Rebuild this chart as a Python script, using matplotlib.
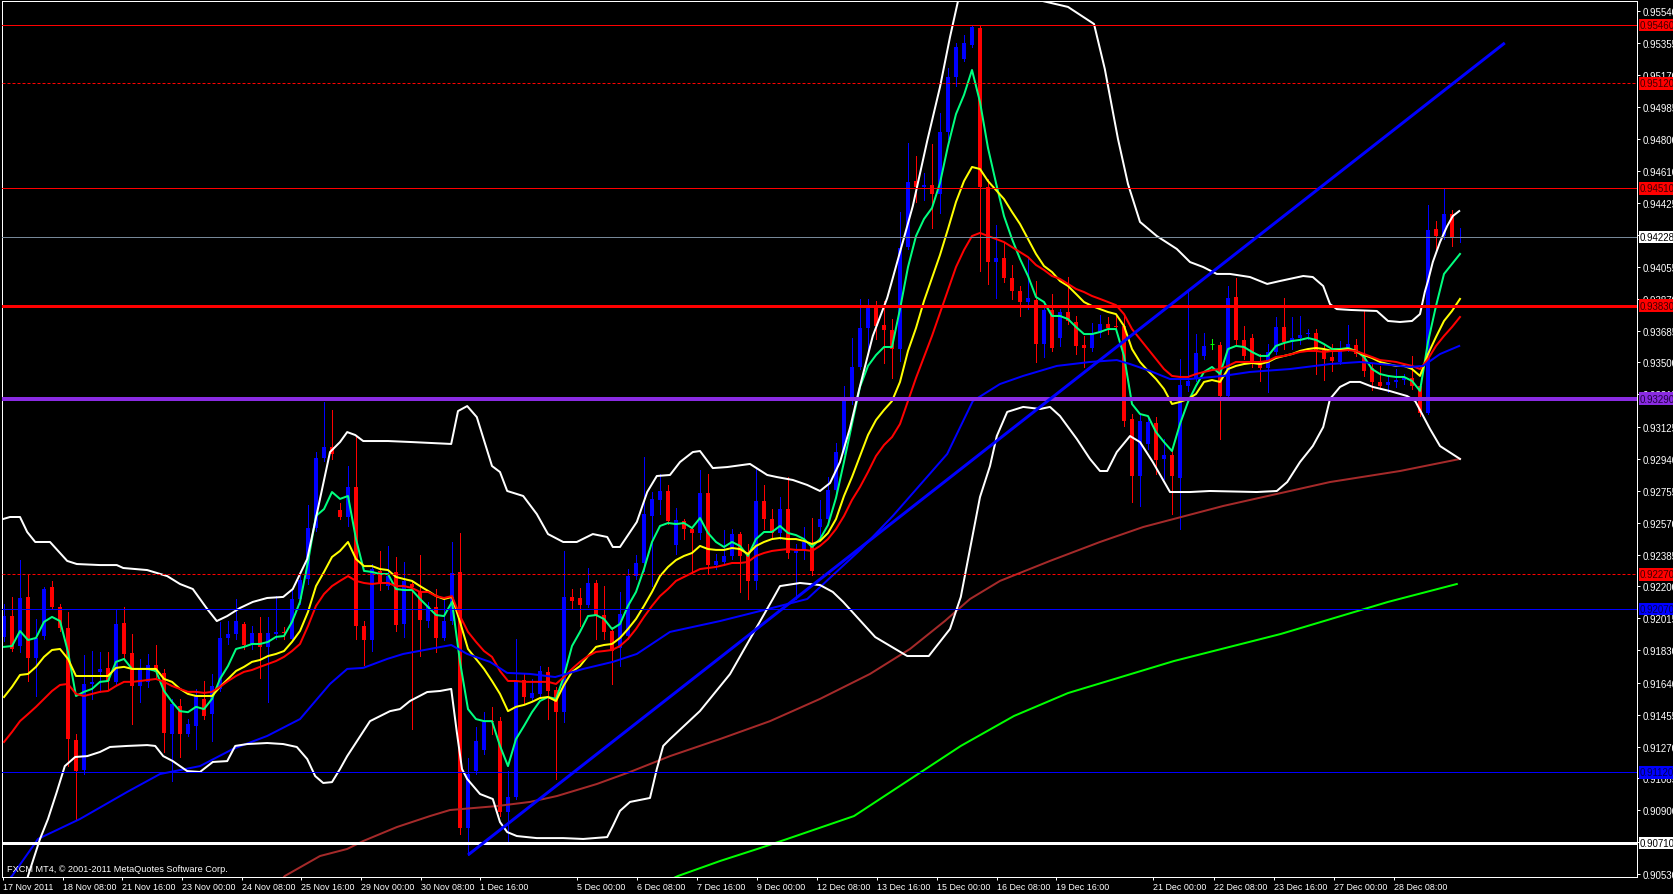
import matplotlib
matplotlib.use("Agg")
import matplotlib.pyplot as plt
import numpy as np
from matplotlib.transforms import blended_transform_factory

plt.rcParams['font.family'] = ['Liberation Sans', 'DejaVu Sans']

# ---- H4 candles, 17 Nov - 28 Dec 2011 ----
opens = [0.91907, 0.92028, 0.91854, 0.92139, 0.91785, 0.91912, 0.92197, 0.92081, 0.91959, 0.91308,
         0.91134, 0.91634, 0.91704, 0.91727, 0.91646, 0.91988, 0.91814, 0.91622, 0.91646, 0.91744,
         0.91698, 0.91343, 0.91506, 0.91343, 0.91390, 0.91547, 0.91459, 0.91605, 0.91901, 0.91924,
         0.91982, 0.91866, 0.91930, 0.91849, 0.91924, 0.91936, 0.91895, 0.92127, 0.92243, 0.92539,
         0.92946, 0.93009, 0.92644, 0.92603, 0.92777, 0.91970, 0.91889, 0.92290, 0.92203, 0.92284,
         0.91982, 0.92214, 0.92174, 0.92000, 0.92081, 0.91901, 0.92000, 0.92284, 0.90798, 0.91128,
         0.91250, 0.91419, 0.91419, 0.90890, 0.90978, 0.91657, 0.91552, 0.91576, 0.91704, 0.91599,
         0.91471, 0.92139, 0.92133, 0.92092, 0.92220, 0.92034, 0.91941, 0.91843, 0.91912, 0.92260,
         0.92336, 0.92609, 0.92702, 0.92754, 0.92440, 0.92580, 0.92533, 0.92510, 0.92742, 0.92324,
         0.92342, 0.92377, 0.92504, 0.92400, 0.92232, 0.92696, 0.92591, 0.92510, 0.92649, 0.92394,
         0.92412, 0.92435, 0.92545, 0.92591, 0.92760, 0.92980, 0.93276, 0.93474, 0.93700, 0.93816,
         0.93717, 0.93688, 0.93578, 0.94171, 0.94553, 0.94519, 0.94530, 0.94478, 0.94838, 0.95157,
         0.95262, 0.95343, 0.95442, 0.94519, 0.94083, 0.94106, 0.93990, 0.93915, 0.93851, 0.93863,
         0.93607, 0.93805, 0.93642, 0.93793, 0.93735, 0.93601, 0.93584, 0.93671, 0.93723, 0.93712,
         0.93712, 0.93172, 0.92841, 0.93027, 0.93149, 0.92940, 0.92963, 0.92829, 0.93363, 0.93410,
         0.93538, 0.93607, 0.93601, 0.93305, 0.93880, 0.93630, 0.93642, 0.93503, 0.93468, 0.93561,
         0.93706, 0.93619, 0.93642, 0.93665, 0.93671, 0.93572, 0.93532, 0.93503, 0.93578, 0.93601,
         0.93549, 0.93468, 0.93387, 0.93369, 0.93387, 0.93398, 0.93410, 0.93364, 0.93207, 0.94275,
         0.94234, 0.94362, 0.94223]
highs = [0.92098, 0.92139, 0.92353, 0.92266, 0.92011, 0.92197, 0.92232, 0.92098, 0.92052, 0.91343,
         0.91802, 0.91825, 0.91820, 0.91820, 0.92063, 0.92081, 0.91924, 0.91779, 0.91808, 0.91860,
         0.91721, 0.91547, 0.91547, 0.91430, 0.91605, 0.91651, 0.91692, 0.91994, 0.92000, 0.92127,
         0.91994, 0.91970, 0.92023, 0.92023, 0.92144, 0.91965, 0.92185, 0.92260, 0.92673, 0.92980,
         0.93271, 0.93224, 0.92684, 0.92899, 0.93068, 0.92000, 0.92330, 0.92406, 0.92435, 0.92371,
         0.92342, 0.92232, 0.92383, 0.92110, 0.92185, 0.92127, 0.92458, 0.92510, 0.91204, 0.91384,
         0.91471, 0.91500, 0.91442, 0.91128, 0.91895, 0.91692, 0.91663, 0.91738, 0.91733, 0.91617,
         0.92406, 0.92185, 0.92191, 0.92307, 0.92237, 0.92203, 0.91965, 0.92168, 0.92301, 0.92383,
         0.92951, 0.92748, 0.92853, 0.92789, 0.92655, 0.92591, 0.92545, 0.92876, 0.92853, 0.92388,
         0.92528, 0.92533, 0.92516, 0.92446, 0.92893, 0.92789, 0.92649, 0.92719, 0.92835, 0.92446,
         0.92545, 0.92597, 0.92702, 0.92835, 0.93033, 0.93363, 0.93642, 0.93869, 0.93869, 0.93857,
         0.93857, 0.93752, 0.94374, 0.94774, 0.94699, 0.94600, 0.94768, 0.94948, 0.95209, 0.95355,
         0.95401, 0.95459, 0.95453, 0.94565, 0.94298, 0.94199, 0.94066, 0.93944, 0.94112, 0.93973,
         0.93840, 0.93898, 0.93810, 0.93996, 0.93770, 0.93654, 0.93729, 0.93775, 0.93764, 0.93770,
         0.93770, 0.93201, 0.93201, 0.93184, 0.93184, 0.93056, 0.92986, 0.93520, 0.93909, 0.93665,
         0.93671, 0.93636, 0.93619, 0.93944, 0.93990, 0.93712, 0.93665, 0.93549, 0.93607, 0.93764,
         0.93874, 0.93764, 0.93770, 0.93694, 0.93694, 0.93607, 0.93607, 0.93625, 0.93717, 0.93636,
         0.93799, 0.93491, 0.93480, 0.93422, 0.93462, 0.93433, 0.93538, 0.93375, 0.94414, 0.94321,
         0.94513, 0.94385, 0.94281]
lows = [0.91883, 0.91825, 0.91820, 0.91651, 0.91564, 0.91895, 0.92069, 0.91941, 0.91157, 0.90850,
        0.91111, 0.91547, 0.91588, 0.91605, 0.91628, 0.91779, 0.91401, 0.91529, 0.91617, 0.91663,
        0.91239, 0.91070, 0.91210, 0.91332, 0.91256, 0.91430, 0.91303, 0.91593, 0.91866, 0.91895,
        0.91837, 0.91837, 0.91669, 0.91529, 0.91895, 0.91895, 0.91883, 0.92098, 0.92214, 0.92522,
        0.92929, 0.92940, 0.92591, 0.92551, 0.91895, 0.91744, 0.91825, 0.92179, 0.92185, 0.91941,
        0.91907, 0.91372, 0.91796, 0.91965, 0.91820, 0.91889, 0.91982, 0.90763, 0.90641, 0.91111,
        0.91227, 0.91343, 0.90867, 0.90716, 0.90966, 0.91517, 0.91535, 0.91564, 0.91430, 0.91082,
        0.91413, 0.92069, 0.91970, 0.92081, 0.91895, 0.91895, 0.91634, 0.91738, 0.91895, 0.92243,
        0.92290, 0.92202, 0.92620, 0.92562, 0.92388, 0.92475, 0.92278, 0.92475, 0.92272, 0.92301,
        0.92324, 0.92359, 0.92168, 0.92127, 0.92185, 0.92533, 0.92475, 0.92475, 0.92365, 0.92127,
        0.92359, 0.92266, 0.92475, 0.92562, 0.92748, 0.92969, 0.93259, 0.93462, 0.93567, 0.93636,
        0.93497, 0.93410, 0.93509, 0.94159, 0.94432, 0.94443, 0.94281, 0.94368, 0.94797, 0.95105,
        0.95250, 0.95331, 0.94031, 0.93956, 0.93874, 0.93967, 0.93869, 0.93770, 0.93810, 0.93503,
        0.93532, 0.93567, 0.93596, 0.93723, 0.93549, 0.93474, 0.93567, 0.93648, 0.93665, 0.93677,
        0.93131, 0.92690, 0.92667, 0.92998, 0.92853, 0.92824, 0.92620, 0.92533, 0.93334, 0.93392,
        0.93520, 0.93578, 0.93056, 0.93288, 0.93607, 0.93520, 0.93474, 0.93392, 0.93329, 0.93549,
        0.93578, 0.93578, 0.93607, 0.93636, 0.93433, 0.93398, 0.93451, 0.93491, 0.93567, 0.93538,
        0.93422, 0.93340, 0.93346, 0.93329, 0.93358, 0.93375, 0.93346, 0.93189, 0.93201, 0.94147,
        0.94217, 0.94176, 0.94199]
closes = [0.92028, 0.91837, 0.92133, 0.91785, 0.91901, 0.92185, 0.92081, 0.91959, 0.91314, 0.91128,
          0.91634, 0.91646, 0.91721, 0.91651, 0.91982, 0.91808, 0.91622, 0.91721, 0.91744, 0.91704,
          0.91349, 0.91517, 0.91343, 0.91401, 0.91564, 0.91448, 0.91622, 0.91901, 0.91924, 0.92000,
          0.91860, 0.91930, 0.91849, 0.91930, 0.91936, 0.91930, 0.92127, 0.92237, 0.92539, 0.92946,
          0.93009, 0.92969, 0.92603, 0.92777, 0.91970, 0.91889, 0.92301, 0.92220, 0.92260, 0.91976,
          0.92232, 0.92197, 0.92006, 0.92087, 0.91901, 0.92000, 0.92278, 0.90798, 0.91111, 0.91303,
          0.91413, 0.91413, 0.90890, 0.90978, 0.91646, 0.91558, 0.91581, 0.91709, 0.91593, 0.91471,
          0.92139, 0.92116, 0.92092, 0.92220, 0.92028, 0.91936, 0.91825, 0.92040, 0.92260, 0.92336,
          0.92620, 0.92708, 0.92754, 0.92580, 0.92586, 0.92533, 0.92510, 0.92742, 0.92324, 0.92348,
          0.92377, 0.92504, 0.92377, 0.92232, 0.92696, 0.92591, 0.92510, 0.92649, 0.92394, 0.92406,
          0.92458, 0.92290, 0.92591, 0.92760, 0.92980, 0.93276, 0.93474, 0.93700, 0.93816, 0.93712,
          0.93688, 0.93578, 0.94165, 0.94548, 0.94519, 0.94530, 0.94478, 0.94838, 0.95157, 0.95331,
          0.95355, 0.95447, 0.94519, 0.94083, 0.94106, 0.93990, 0.93915, 0.93851, 0.93874, 0.93607,
          0.93805, 0.93584, 0.93793, 0.93741, 0.93596, 0.93584, 0.93671, 0.93723, 0.93700, 0.93706,
          0.93160, 0.92841, 0.93160, 0.93154, 0.92934, 0.92963, 0.92841, 0.93369, 0.93392, 0.93555,
          0.93596, 0.93607, 0.93305, 0.93874, 0.93630, 0.93538, 0.93503, 0.93468, 0.93561, 0.93706,
          0.93619, 0.93642, 0.93660, 0.93671, 0.93572, 0.93520, 0.93509, 0.93578, 0.93607, 0.93549,
          0.93451, 0.93387, 0.93364, 0.93387, 0.93398, 0.93410, 0.93364, 0.93207, 0.94269, 0.94234,
          0.94362, 0.94223, 0.94228]

# ---- moving averages, one value per bar ----
ma_green = [0.91849, 0.91854, 0.91941, 0.91889, 0.91901, 0.91994, 0.92023, 0.91999, 0.91820, 0.91564,
            0.91588, 0.91605, 0.91646, 0.91651, 0.91762, 0.91779, 0.91721, 0.91721, 0.91721, 0.91709,
            0.91593, 0.91530, 0.91476, 0.91470, 0.91501, 0.91488, 0.91547, 0.91663, 0.91738, 0.91837,
            0.91849, 0.91866, 0.91866, 0.91878, 0.91907, 0.91912, 0.91994, 0.92110, 0.92342, 0.92609,
            0.92649, 0.92748, 0.92708,
            0.92725, 0.92475, 0.92290, 0.92284, 0.92272, 0.92272, 0.92185, 0.92179, 0.92179, 0.92127,
            0.92081, 0.92034, 0.92028, 0.92110, 0.91762, 0.91488, 0.91430, 0.91418, 0.91418, 0.91274,
            0.91157, 0.91314, 0.91390, 0.91470, 0.91535, 0.91558, 0.91547, 0.91680, 0.91854, 0.91936,
            0.92028, 0.92034, 0.92011, 0.91953, 0.91982, 0.92087, 0.92168, 0.92301, 0.92458, 0.92551,
            0.92568,
            0.92562, 0.92568, 0.92539, 0.92597, 0.92510, 0.92458, 0.92429, 0.92458, 0.92435, 0.92377,
            0.92475, 0.92516, 0.92516, 0.92551, 0.92510, 0.92498, 0.92475, 0.92429, 0.92475, 0.92556,
            0.92714, 0.92923, 0.93143, 0.93358, 0.93480, 0.93543, 0.93590, 0.93590, 0.93810, 0.94054,
            0.94234, 0.94333, 0.94397, 0.94542, 0.94757, 0.94942, 0.95053, 0.95198, 0.95012, 0.94745,
            0.94542,
            0.94350, 0.94217, 0.94101, 0.94002, 0.93880, 0.93851, 0.93770, 0.93770, 0.93752, 0.93706,
            0.93665, 0.93665, 0.93677, 0.93694, 0.93694, 0.93538, 0.93259, 0.93201, 0.93189, 0.93096,
            0.93038, 0.92986, 0.93143, 0.93271, 0.93364, 0.93445, 0.93474, 0.93433, 0.93578, 0.93596,
            0.93590, 0.93561, 0.93538, 0.93538, 0.93596, 0.93613, 0.93625, 0.93631, 0.93642, 0.93631,
            0.93607,
            0.93578, 0.93578, 0.93584, 0.93567, 0.93532, 0.93462, 0.93433, 0.93422, 0.93416, 0.93416,
            0.93393, 0.93335, 0.93619, 0.93828, 0.94014, 0.94072, 0.94130]
ma_yellow = [0.91558, 0.91617, 0.91686, 0.91692, 0.91733, 0.91791, 0.91831, 0.91837, 0.91779, 0.91680,
             0.91680, 0.91680, 0.91680, 0.91680, 0.91727, 0.91733, 0.91721, 0.91721, 0.91721, 0.91721,
             0.91663, 0.91646, 0.91605, 0.91576, 0.91564, 0.91564, 0.91564, 0.91617, 0.91663, 0.91709,
             0.91733, 0.91762, 0.91773, 0.91796, 0.91808, 0.91825, 0.91878, 0.91941, 0.92052, 0.92202,
             0.92284, 0.92371, 0.92406,
             0.92458, 0.92359, 0.92318, 0.92318, 0.92301, 0.92295, 0.92255, 0.92243, 0.92232, 0.92202,
             0.92174, 0.92144, 0.92127, 0.92139, 0.91994, 0.91837, 0.91779, 0.91721, 0.91651, 0.91576,
             0.91476, 0.91501, 0.91512, 0.91530, 0.91552, 0.91558, 0.91535, 0.91628, 0.91704, 0.91738,
             0.91796, 0.91849, 0.91860, 0.91866, 0.91901, 0.91953, 0.92011, 0.92087, 0.92168, 0.92260,
             0.92313,
             0.92353, 0.92377, 0.92394, 0.92435, 0.92417, 0.92412, 0.92412, 0.92423, 0.92417, 0.92388,
             0.92435, 0.92458, 0.92475, 0.92481, 0.92475, 0.92475, 0.92464, 0.92446, 0.92464, 0.92510,
             0.92591, 0.92725, 0.92835, 0.92957, 0.93079, 0.93166, 0.93224, 0.93276, 0.93387, 0.93567,
             0.93700, 0.93857, 0.93990, 0.94124, 0.94275, 0.94432, 0.94553, 0.94635, 0.94623, 0.94553,
             0.94501,
             0.94449, 0.94374, 0.94304, 0.94217, 0.94130, 0.94060, 0.94025, 0.93973, 0.93944, 0.93898,
             0.93851, 0.93828, 0.93810, 0.93793, 0.93781, 0.93712, 0.93578, 0.93503, 0.93451, 0.93404,
             0.93346, 0.93259, 0.93271, 0.93288, 0.93317, 0.93387, 0.93398, 0.93387, 0.93462, 0.93480,
             0.93491, 0.93497, 0.93491, 0.93503, 0.93526, 0.93538, 0.93549, 0.93567, 0.93578, 0.93584,
             0.93578,
             0.93567, 0.93572, 0.93578, 0.93567, 0.93543, 0.93526, 0.93503, 0.93491, 0.93480, 0.93480,
             0.93462, 0.93422, 0.93549, 0.93648, 0.93741, 0.93799, 0.93869]
ma_red = [0.91297, 0.91355, 0.91418, 0.91459, 0.91501, 0.91547, 0.91593, 0.91628, 0.91634, 0.91576,
          0.91564, 0.91576, 0.91588, 0.91593, 0.91622, 0.91646, 0.91646, 0.91651, 0.91657, 0.91663,
          0.91646, 0.91622, 0.91605, 0.91588, 0.91588, 0.91582, 0.91588, 0.91617, 0.91651, 0.91680,
          0.91704, 0.91715, 0.91733, 0.91750, 0.91767, 0.91791, 0.91825, 0.91866, 0.91970, 0.92087,
          0.92156, 0.92202, 0.92232,
          0.92260, 0.92232, 0.92220, 0.92214, 0.92220, 0.92220, 0.92202, 0.92202, 0.92191, 0.92168,
          0.92168, 0.92144, 0.92133, 0.92144, 0.92028, 0.91936, 0.91878, 0.91825, 0.91791, 0.91709,
          0.91651, 0.91651, 0.91646, 0.91646, 0.91646, 0.91646, 0.91634, 0.91674, 0.91721, 0.91762,
          0.91796, 0.91820, 0.91825, 0.91831, 0.91854, 0.91895, 0.91953, 0.92023, 0.92087, 0.92144,
          0.92185,
          0.92232, 0.92255, 0.92278, 0.92301, 0.92307, 0.92313, 0.92324, 0.92336, 0.92336, 0.92342,
          0.92377, 0.92394, 0.92406, 0.92412, 0.92417, 0.92412, 0.92412, 0.92406, 0.92435, 0.92475,
          0.92533, 0.92609, 0.92702, 0.92777, 0.92864, 0.92957, 0.93021, 0.93067, 0.93143, 0.93276,
          0.93410, 0.93532, 0.93654, 0.93787, 0.93921, 0.94054, 0.94153, 0.94234, 0.94252, 0.94234,
          0.94217,
          0.94199, 0.94170, 0.94141, 0.94112, 0.94066, 0.94037, 0.94002, 0.93985, 0.93956, 0.93927,
          0.93909, 0.93886, 0.93869, 0.93851, 0.93833, 0.93781, 0.93694, 0.93636, 0.93578, 0.93520,
          0.93462, 0.93422, 0.93416, 0.93416, 0.93433, 0.93445, 0.93456, 0.93462, 0.93480, 0.93503,
          0.93503, 0.93503, 0.93503, 0.93509, 0.93532, 0.93538, 0.93549, 0.93561, 0.93567, 0.93567,
          0.93561,
          0.93567, 0.93567, 0.93572, 0.93567, 0.93549, 0.93532, 0.93514, 0.93509, 0.93503, 0.93491,
          0.93480, 0.93462, 0.93520, 0.93596, 0.93654, 0.93706, 0.93764]

# ---- slower lines, read at sample bars ----
ma_blue_bar = [0, 1, 4.25, 9.5, 15.4, 19.5, 24.5, 28.6, 32.9, 37, 40.75, 42.9, 44.9, 47.9, 49.9, 53.25,
               55.9, 57.9, 60.75, 62.9, 65.75, 68.9, 72.4, 76.1, 79.1, 83.25, 89.5, 95, 100.4, 107,
               111.1, 117.9, 121.1, 124.5, 127.4, 131.6, 135.75, 139.1, 140.75, 143.25, 145.75, 148.25,
               152.4, 155.75, 160.75, 165.75, 169.5, 175.75, 177.4, 179.5, 181.9]
ma_blue = [0.90473, 0.90519, 0.90734, 0.90850, 0.91007, 0.91111, 0.91157, 0.91256, 0.91332, 0.91430,
           0.91634, 0.91721, 0.91727, 0.91779, 0.91808, 0.91837, 0.91860, 0.91808, 0.91762, 0.91698,
           0.91692, 0.91674, 0.91721, 0.91762, 0.91808, 0.91936, 0.91999, 0.92063, 0.92127, 0.92411,
           0.92609, 0.92969, 0.93276, 0.93375, 0.93422, 0.93480, 0.93503, 0.93514, 0.93491, 0.93451,
           0.93404, 0.93404, 0.93422, 0.93445, 0.93462, 0.93491, 0.93503, 0.93474, 0.93480, 0.93549,
           0.93596]

ma_brown_bar = [33, 35.1, 39.5, 42.9, 44.9, 49.1, 53.25, 55.75, 61.6, 65.75, 69.1, 74.1, 78.25, 83.25,
                89.5, 95.75, 102, 108.25, 113.25, 117.6, 120.75, 124.5, 130.75, 137, 142.4, 152.4,
                165.75, 174.5, 182]
ma_brown = [0.90400, 0.90519, 0.90635, 0.90676, 0.90722, 0.90803, 0.90867, 0.90902, 0.90925, 0.90949,
            0.90983, 0.91053, 0.91123, 0.91215, 0.91314, 0.91418, 0.91547, 0.91692, 0.91837, 0.91999,
            0.92127, 0.92232, 0.92348, 0.92458, 0.92545, 0.92667, 0.92806, 0.92870, 0.92940]

ma_lime_bar = [80.75, 84.25, 89.5, 94.5, 97.9, 106.25, 119.6, 126.25, 133, 146.25, 159.6, 173, 181.6]
ma_lime = [0.90443, 0.90519, 0.90606, 0.90681, 0.90734, 0.90867, 0.91274, 0.91448, 0.91581, 0.91767,
           0.91924, 0.92110, 0.92214]

bb_up_bar = [-0.5, 0.75, 2, 2.9, 3.9, 5.75, 7.9, 9.1, 12, 14.1, 14.9, 17.9, 20.4, 22, 23.6, 25.4, 26.6,
             27.9, 29.5, 31.1, 32.9, 34.9, 36.1, 37.9, 39.5, 40.75, 42, 42.9, 43.9, 44.9, 48, 51, 55.9,
             56.75, 57.9, 59.1, 61, 62, 62.9, 64.9, 66.6, 68, 69.9, 71.6, 73.6, 75.4, 76.1, 77, 79.1,
             80.4, 81.6, 83.25, 84.5, 86.1, 87, 88.6, 90.4, 93.25, 95.4, 96.6, 98.6, 100.4, 102, 103.25,
             104.5, 105.75, 107, 108.6, 110.4, 112, 113.6, 115.4, 117, 118.25, 119.25, 121.4, 123.9,
             126.5, 128.75, 133, 136.25, 137.6, 139.25, 140.5, 142, 144.1, 146.6, 148.25, 149.9, 151.6,
             153.25, 155.75, 157.9, 159.5, 162.4, 163.6, 164.9, 165.75, 166.6, 168.25, 171.6, 173,
             174.5, 176, 177, 177.6, 178, 178.6, 179.5, 180.4, 181.1, 181.9]
bb_up = [0.92586, 0.92603, 0.92603, 0.92516, 0.92458, 0.92458, 0.92348, 0.92330, 0.92324, 0.92324,
         0.92307, 0.92295, 0.92260, 0.92214, 0.92185, 0.92069, 0.91999, 0.92028, 0.92075, 0.92110,
         0.92133, 0.92139, 0.92185, 0.92359, 0.92708, 0.92980, 0.93038, 0.93096, 0.93079, 0.93044,
         0.93044, 0.93038, 0.93027, 0.93218, 0.93247, 0.93183, 0.92899, 0.92864, 0.92754, 0.92725,
         0.92620, 0.92504, 0.92458, 0.92458, 0.92504, 0.92487, 0.92429, 0.92429, 0.92574, 0.92748,
         0.92841, 0.92847, 0.92922, 0.92980, 0.92986, 0.92887, 0.92893, 0.92911, 0.92847, 0.92835,
         0.92818, 0.92789, 0.92754, 0.92800, 0.92922, 0.93120, 0.93363, 0.93654, 0.93874, 0.94141,
         0.94408, 0.94786, 0.95099, 0.95389, 0.95598, 0.95730, 0.95790, 0.95700, 0.95610, 0.95564,
         0.95465, 0.95204, 0.94797, 0.94536, 0.94316, 0.94234, 0.94159, 0.94083, 0.94054, 0.94014,
         0.94014, 0.93996, 0.93956, 0.93973, 0.94002, 0.93996, 0.93944, 0.93839, 0.93810, 0.93805,
         0.93799, 0.93741, 0.93735, 0.93741, 0.93781, 0.93909, 0.93973, 0.94083, 0.94199, 0.94292,
         0.94350, 0.94379]

bb_lo_bar = [2.25, 3, 4.5, 5.5, 6.6, 7.6, 8.9, 10.4, 12, 13.25, 15.4, 17.9, 18.9, 19.9, 21.1, 22.9, 24.5,
             26.1, 27.9, 28.9, 30.4, 32.9, 34.9, 36.6, 37.9, 38.9, 39.9, 41, 42, 42.9, 45.75, 48.25,
             49.5, 50.75, 52.9, 54.5, 55.9, 56.6, 57.25, 57.9, 59.5, 61.1, 62, 62.9, 64.1, 66.6, 69.9,
             72.4, 75.4, 76.1, 77, 78.25, 80.75, 81.6, 82.4, 83.25, 87, 90.75, 93.25, 96.1, 97, 99.5,
             102, 103.6, 104.9, 108.9, 112.9, 115.6, 118.25, 119.6, 122, 123.25, 124.1, 125.4, 127.4,
             129.5, 130.75, 132, 134.1, 135.75, 137, 137.9, 139.1, 140.75, 142, 143.6, 145.75, 148.25,
             150.75, 156.6, 159.1, 160.4, 162, 163.6, 164.9, 165.75, 167, 168.25, 169.5, 171.1, 173.25,
             175.4, 176.4, 177.4, 178.25, 179.5, 182]
bb_lo = [0.90386, 0.90519, 0.90734, 0.90850, 0.91007, 0.91157, 0.91210, 0.91215, 0.91239, 0.91268,
         0.91274, 0.91279, 0.91274, 0.91215, 0.91186, 0.91128, 0.91123, 0.91181, 0.91186, 0.91274,
         0.91285, 0.91291, 0.91285, 0.91268, 0.91198, 0.91099, 0.91059, 0.91064, 0.91140, 0.91215,
         0.91418, 0.91476, 0.91488, 0.91535, 0.91587, 0.91593, 0.91605, 0.91355, 0.91140, 0.91082,
         0.90995, 0.90966, 0.90832, 0.90774, 0.90751, 0.90739, 0.90739, 0.90734, 0.90745, 0.90809,
         0.90897, 0.90949, 0.90972, 0.91140, 0.91274, 0.91314, 0.91477, 0.91691, 0.91895, 0.92127,
         0.92202, 0.92220, 0.92208, 0.92168, 0.92110, 0.91906, 0.91796, 0.91796, 0.91953, 0.92139,
         0.92719, 0.92899, 0.93073, 0.93213, 0.93242, 0.93230, 0.93242, 0.93189, 0.93056, 0.92940,
         0.92870, 0.92870, 0.92980, 0.93073, 0.93038, 0.92922, 0.92748, 0.92748, 0.92754, 0.92748,
         0.92754, 0.92806, 0.92922, 0.93015, 0.93125, 0.93288, 0.93358, 0.93387, 0.93387, 0.93358,
         0.93334, 0.93305, 0.93276, 0.93189, 0.93114, 0.93015, 0.92940]

trend_bar = [58, 187.6]
trend_price = [0.90641, 0.95355]

# ---- horizontal levels ----
levels = [0.95460, 0.95120, 0.94510, 0.94228, 0.93830, 0.93290, 0.92270, 0.92070, 0.91120, 0.90710]
level_colors = ['#FF0000', '#FF0000', '#FF0000', '#778899', '#FF0000', '#8A2BE2', '#FF0000',
                '#0000FF', '#0000FF', '#FFFFFF']
level_box = ['#FF0000', '#FF0000', '#FF0000', '#FFFFFF', '#FF0000', '#8A2BE2', '#FF0000',
             '#0000FF', '#0000FF', '#FFFFFF']
level_text = ['#400000', '#400000', '#400000', '#000000', '#400000', '#200040', '#400000',
              '#000050', '#000050', '#000000']
level_dotted = [False, True, False, False, False, False, True, False, False, False]
level_px = [1, 1, 1, 1, 3, 4, 1, 1, 1, 3]

price_ticks = [0.95540, 0.95355, 0.95170, 0.94985, 0.94800, 0.94610, 0.94425, 0.94240, 0.94055,
               0.93870, 0.93685, 0.93500, 0.93315, 0.93125, 0.92940, 0.92755, 0.92570, 0.92385,
               0.92200, 0.92015, 0.91830, 0.91640, 0.91455, 0.91270, 0.91085, 0.90900, 0.90715,
               0.90530]
time_labels = ['17 Nov 2011', '18 Nov 08:00', '21 Nov 16:00', '23 Nov 00:00', '24 Nov 08:00',
               '25 Nov 16:00', '29 Nov 00:00', '30 Nov 08:00', '1 Dec 16:00', '5 Dec 00:00',
               '6 Dec 08:00', '7 Dec 16:00', '9 Dec 00:00', '12 Dec 08:00', '13 Dec 16:00',
               '15 Dec 00:00', '16 Dec 08:00', '19 Dec 16:00', '21 Dec 00:00', '22 Dec 08:00',
               '23 Dec 16:00', '27 Dec 00:00', '28 Dec 08:00']
time_pos = [-0.125, 7.375, 14.75, 22.25, 29.75, 37.125, 44.625, 52.125, 59.5, 71.625, 79.125,
            86.625, 94.125, 101.625, 109.125, 116.625, 124.125, 131.5, 143.625, 151.25, 158.75,
            166.25, 173.75]

W, H = 1674, 895
PX = 72 / 100.0  # one pixel in points
FS_TIME = 6.4
FS_PRICE = 7.0

fig = plt.figure(figsize=(W / 100, H / 100), dpi=100, facecolor='black')
ax = fig.add_axes([2 / W, (H - 878) / H, (1637 - 2) / W, (878 - 2) / H])
ax.set_facecolor('black')
ax.set_xlim(-0.25, 204.125)
ax.set_ylim(0.905132, 0.955984)

o = np.array(opens); h = np.array(highs); l = np.array(lows); c = np.array(closes)
idx = np.arange(len(o))
up = c > o
down = c < o
flat = c == o
col = np.where(up, '#0000FF', np.where(down, '#FF0000', '#00FF00'))

ax.vlines(idx, l, h, colors=col, linewidth=PX, antialiased=False, zorder=2)
ax.bar(idx[~flat], np.abs(c - o)[~flat], bottom=np.minimum(o, c)[~flat], width=0.6,
       color=col[~flat], linewidth=0, antialiased=False, zorder=2)
ax.hlines(c[flat], idx[flat] - 0.3, idx[flat] + 0.3, colors='#00FF00', linewidth=PX, zorder=2)

lw = 2 * PX
ax.plot(np.arange(len(ma_green)), ma_green, color='#00FF7F', lw=lw, zorder=3)
ax.plot(np.arange(len(ma_yellow)), ma_yellow, color='#FFFF00', lw=lw, zorder=3)
ax.plot(np.arange(len(ma_red)), ma_red, color='#FF0000', lw=lw, zorder=3)
ax.plot(ma_blue_bar, ma_blue, color='#0000FF', lw=lw, zorder=3)
ax.plot(ma_brown_bar, ma_brown, color='#A52A2A', lw=lw, zorder=3)
ax.plot(ma_lime_bar, ma_lime, color='#00FF00', lw=lw, zorder=3)
ax.plot(bb_up_bar, bb_up, color='white', lw=lw, zorder=3)
ax.plot(bb_lo_bar, bb_lo, color='white', lw=lw, zorder=3)

for lev, lc, dot, px in zip(levels, level_colors, level_dotted, level_px):
    ax.axhline(lev, color=lc, lw=px * PX, ls=(0, (3, 2)) if dot else '-', zorder=4)

ax.plot(trend_bar, trend_price, color='#0000FF', lw=3 * PX, zorder=5, solid_capstyle='butt')

# frame and axes
for s in ax.spines.values():
    s.set_color('white')
    s.set_linewidth(PX)
ax.yaxis.tick_right()
ax.set_yticks(price_ticks)
ax.set_yticklabels(['%.5f' % p for p in price_ticks])
ax.set_xticks(time_pos)
ax.set_xticklabels(time_labels)
for lab in ax.get_xticklabels():
    lab.set_horizontalalignment('left')
    lab.set_fontsize(FS_TIME)
for lab in ax.get_yticklabels():
    lab.set_fontsize(FS_PRICE)
ax.tick_params(axis='both', colors='white', length=3 * PX, width=PX, direction='out')
ax.tick_params(axis='y', pad=2)
ax.tick_params(axis='x', pad=1.5)

tr = blended_transform_factory(ax.transAxes, ax.transData)
for lev, bc, tc in zip(levels, level_box, level_text):
    ax.text(1 + 3 / 1635, lev, '%.5f' % lev, transform=tr, ha='left', va='center',
            fontsize=FS_PRICE, color=tc, clip_on=False, zorder=10,
            bbox=dict(boxstyle='square,pad=0.12', fc=bc, ec='none'))

ax.text(5 / 1635, 8 / 876, 'FXCM MT4, \u00a9 2001-2011 MetaQuotes Software Corp.',
        transform=ax.transAxes, color='white', fontsize=6.6, ha='left', va='center', zorder=10)

fig.savefig('out.png', dpi=100, facecolor='black')
